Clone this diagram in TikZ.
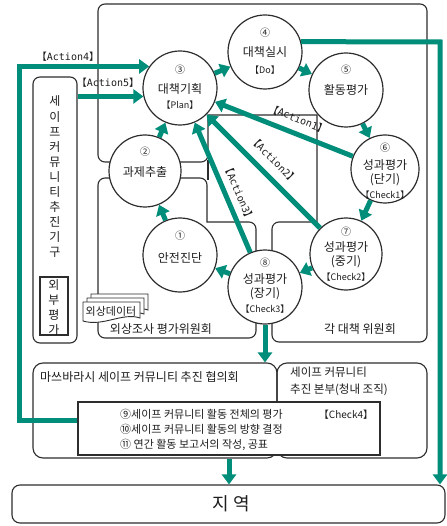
\documentclass[tikz,border=0pt]{standalone}
\usepackage{fontspec}
\setmainfont{Noto Sans CJK KR}
\newfontfamily\monof{DejaVu Sans Mono}
\usetikzlibrary{arrows.meta}
\definecolor{teal1}{RGB}{0,142,122}
\definecolor{linec}{RGB}{45,45,45}
\definecolor{textc}{RGB}{30,30,30}
\newcommand\actlbl[1]{【{\monof #1}】}
\begin{document}
\begin{tikzpicture}[x=1pt,y=-1pt,
  box/.style={draw=linec, line width=1.1pt},
  circ/.style={circle, draw=linec, line width=1.2pt, fill=white, inner sep=0pt},
  arr/.style={draw=teal1, line width=5pt, -{Triangle[length=10pt,width=14pt]}},
  txt/.style={text=textc, inner sep=0pt},
  f9/.style={txt, font=\fontsize{9}{11}\selectfont},
  f10/.style={txt, font=\fontsize{10}{12}\selectfont},
  f11/.style={txt, font=\fontsize{11}{13}\selectfont},
  f12/.style={txt, font=\fontsize{12}{14}\selectfont}]
\useasboundingbox (0,0) rectangle (446,526);
\fill[white] (0,0) rectangle (446,526);

% committee regions
\draw[box,rounded corners=7pt] (98,162) -- (98,4) -- (427,4) -- (427,342) -- (272,342) -- (272,222) [sharp corners] -- (317,222) -- (317,115) -- (208,115) [rounded corners=7pt] -- (208,162) -- cycle;
\draw[box] (208,160) -- (208,180);
\draw[box,rounded corners=7pt] (98,178) -- (207,178) [sharp corners] -- (207,222) [rounded corners=7pt] -- (256,222) -- (256,338) -- (98,338) -- cycle;
\node[f12] (lblgw) at (161,329) {외상조사 평가위원회};
\node[f12] (lblgd) at (360,329) {각 대책 위원회};

% promotion organisation (vertical)
\node[box, rounded corners=7pt, minimum width=44pt, minimum height=266pt, inner sep=0pt] (kigu) at (55,210) {};
\node[txt, align=center, font=\fontsize{12}{15.1}\selectfont] (kigut) at (55,177) {세\\이\\프\\커\\뮤\\니\\티\\추\\진\\기\\구};
\node[box, minimum width=28pt, minimum height=58pt, inner sep=0pt] (oebu) at (54,306) {};
\node[txt, align=center, font=\fontsize{12}{15}\selectfont] (oebut) at (54,307) {외\\부\\평\\가};

% injury data document stack
\draw[box, fill=white, line width=0.9pt] (91,294) -- (148,294) -- (148,310) .. controls (131,304) and (111,319) .. (91,313) -- cycle;
\draw[box, fill=white, line width=0.9pt] (87,298) -- (144,298) -- (144,314) .. controls (127,308) and (107,323) .. (87,317) -- cycle;
\draw[box, fill=white, line width=0.9pt] (83,302) -- (140,302) -- (140,318) .. controls (123,312) and (103,327) .. (83,321) -- cycle;
\node[f11] (data) at (111,311) {외상데이터};

% circles
\node[circ, minimum size=74pt] (c1) at (180,255) {};
\node[circ, minimum size=72pt] (c2) at (145,171) {};
\node[circ, minimum size=74pt] (c3) at (180,88) {};
\node[circ, minimum size=74pt] (c4) at (265,52) {};
\node[circ, minimum size=74pt] (c5) at (346,90) {};
\node[circ, minimum size=68pt] (c6) at (385,169) {};
\node[circ, minimum size=72pt] (c7) at (346,254) {};
\node[circ, minimum size=74pt] (c8) at (265,287) {};

% circle texts
\node[f10] (n1) at (180,236) {①};
\node[f12] (t1) at (180,258) {안전진단};
\node[f10] (n2) at (145,152) {②};
\node[f12] (t2) at (145,172) {과제추출};
\node[f10] (n3) at (180,70) {③};
\node[f12] (t3) at (180,89) {대책기획};
\node[f9] (p3) at (180,105) {【Plan】};
\node[f10] (n4) at (265,33) {④};
\node[f12] (t4) at (265,52) {대책실시};
\node[f9] (p4) at (265,70) {【Do】};
\node[f10] (n5) at (346,70) {⑤};
\node[f12] (t5) at (346,90) {활동평가};
\node[f10] (n6) at (385,148) {⑥};
\node[f12] (t6) at (385,165) {성과평가};
\node[f12] (s6) at (385,180) {(단기)};
\node[f9] (p6) at (385,195) {【Check1】};
\node[f10] (n7) at (346,232) {⑦};
\node[f12] (t7) at (346,247) {성과평가};
\node[f12] (s7) at (346,262) {(중기)};
\node[f9] (p7) at (346,277) {【Check2】};
\node[f10] (n8) at (265,263) {⑧};
\node[f12] (t8) at (265,279) {성과평가};
\node[f12] (s8) at (265,294) {(장기)};
\node[f9] (p8) at (265,309) {【Check3】};

% bottom organisation boxes
\node[box, rounded corners=10pt, minimum width=244pt, minimum height=95pt] (coal) at (155,410.5) {};
\node[f12, anchor=west] (coalt) at (40,377) {마쓰바라시 세이프 커뮤니티 추진 협의회};
\node[box, rounded corners=10pt, minimum width=150pt, minimum height=95pt] (hq) at (352,410.5) {};
\node[txt, anchor=west, align=left, font=\fontsize{11.5}{16.5}\selectfont] (hqt) at (290,381.5) {세이프 커뮤니티\\추진 본부(청내 조직)};
\node[box, fill=white, minimum width=302pt, minimum height=53pt] (box9) at (229,428.5) {};
\node[txt, anchor=west, align=left, font=\fontsize{11}{15}\selectfont] (box9t) at (120,430) {⑨세이프 커뮤니티 활동 전체의 평가\\⑩세이프 커뮤니티 활동의 방향 결정\\⑪ 연간 활동 보고서의 작성, 공표};
\node[f10] (chk4) at (346,415) {【Check4】};

\node[box, rounded corners=8pt, minimum width=433pt, minimum height=38pt] (region) at (228.5,504) {};
\node[txt, font=\fontsize{18}{20}\selectfont] (regt) at (231,504) {지 역};

% cycle arrows
\draw[arr] (c1) -- (c2);
\draw[arr] (c2) -- (c3);
\draw[arr] (c3) -- (c4);
\draw[arr] (c4) -- (c5);
\draw[arr] (c5) -- (c6);
\draw[arr] (c6) -- (c7);
\draw[arr] (c7) -- (c8);
\draw[arr] (c8) -- (c1);
\draw[arr] (c6) -- (c3);
\draw[arr] (c7) -- (c3);
\draw[arr] (c8) -- (c3);

% feedback lines
\coordinate (a4) at (19,420);
\draw[arr] (box9.west |- a4) -- (a4) |- (c3.145);
\draw[arr] (kigu.east |- c3.193) -- (c3.193);
\coordinate (r4) at (440,42);
\draw[arr] (c4.16) -- (r4) -- (r4 |- region.north);
\draw[arr] (c8.south) -- (c8.south |- coal.north);
\draw[arr] (box9.south |- coal.south) -- (box9.south |- region.north);

% action labels
\node[f10, rotate=-21.6] (act1) at (298,119) {\actlbl{Action1}};
\node[f10, rotate=-45] (act2) at (274,160) {\actlbl{Action2}};
\node[f10, rotate=-67] (act3) at (239,193) {\actlbl{Action3}};
\node[f10] (act4) at (68,57) {\actlbl{Action4}};
\node[f10] (act5) at (108,83) {\actlbl{Action5}};
\end{tikzpicture}
\end{document}
